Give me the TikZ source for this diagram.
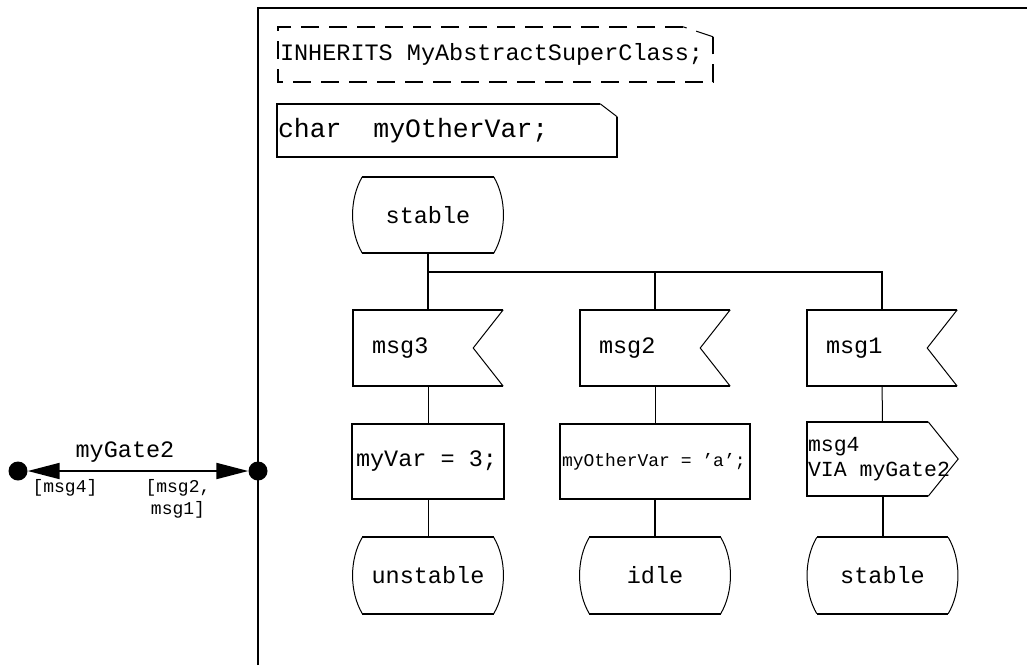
\documentclass[tikz,border=0pt]{standalone}
\usepackage{fontspec}
\setmonofont{Liberation Mono}[WordSpace={1,0,0}]
\usepackage{tikz}
\usetikzlibrary{positioning,calc,arrows.meta}
% monospaced text with full-width spaces
\newcommand{\sdlMono}{\ttfamily\fontdimen2\font=0.6em\fontdimen3\font=0pt\fontdimen4\font=0pt}
\newcommand{\sdlFont}{\fontsize{23.5pt}{25pt}\selectfont\sdlMono}
\newcommand{\sdlSmall}{\fontsize{18pt}{22pt}\selectfont\sdlMono}
\newcommand{\sdlDecl}{\fontsize{26.5pt}{28pt}\selectfont\sdlMono}
\newcommand{\sdlOutFont}{\fontsize{21.5pt}{25pt}\selectfont\sdlMono}
\tikzset{
    sdlBase/.style={
        rectangle,
        inner sep=0pt,
        font=\sdlFont,
        align=flush left
    },
    % Symbol Variants
    sdlState/.style={sdlBase, minimum width=151pt, minimum height=76pt, text width=151pt, align=flush center},
    sdlInput/.style={sdlBase, minimum height=76pt, inner xsep=19pt, text width=112pt},
    sdlTask/.style={sdlBase, minimum height=75pt},
    sdlOutput/.style={sdlBase, font=\sdlOutFont, minimum height=74pt, inner xsep=1pt, text width=149pt},
    sdlText/.style={sdlBase, inner xsep=2pt},
    sdlGateDot/.style={circle, fill=black, inner sep=0pt, minimum size=19pt},
    sdlLabel/.style={font=\sdlSmall, align=flush center, inner sep=0pt},
    % Lines
    sdlThick/.style={line width=2pt, line join=miter},
    sdlThin/.style={line width=1pt},
    sdlGateArrow/.style={sdlThick, {Triangle[length=32pt,width=16pt]}-{Triangle[length=32pt,width=16pt]}}
}
% outlines drawn round named nodes
\newcommand{\drawState}[1]{%
    \draw[sdlThick] ([xshift=10pt]#1.north west) -- ([xshift=-10pt]#1.north east)
        ([xshift=10pt]#1.south west) -- ([xshift=-10pt]#1.south east);
    \draw[sdlThin] ([xshift=10pt]#1.north west) .. controls ([xshift=-3pt,yshift=-22pt]#1.north west) and ([xshift=-3pt,yshift=22pt]#1.south west) .. ([xshift=10pt]#1.south west)
        ([xshift=-10pt]#1.north east) .. controls ([xshift=3pt,yshift=-22pt]#1.north east) and ([xshift=3pt,yshift=22pt]#1.south east) .. ([xshift=-10pt]#1.south east);
}
\newcommand{\drawInput}[1]{%
    \draw[sdlThick] (#1.north east) -- (#1.north west) -- (#1.south west) -- (#1.south east);
    \draw[sdlThin] (#1.north east) -- ([xshift=-30pt]#1.east) -- (#1.south east);
}
\newcommand{\drawOutput}[1]{%
    \draw[sdlThick] ([xshift=-30pt]#1.north east) -- (#1.north west) -- (#1.south west) -- ([xshift=-30pt]#1.south east);
    \draw[sdlThin] ([xshift=-30pt]#1.north east) -- (#1.east) -- ([xshift=-30pt]#1.south east);
}
\newcommand{\drawTextSym}[4][]{%
    \draw[sdlThick,#1] ([xshift=-#3]#2.north east) -- (#2.north west) -- (#2.south west) -- (#2.south east) -- ([yshift=-#4]#2.north east);
    \draw[sdlThin,#1] ([yshift=-#4]#2.north east) -- ([xshift=-#3]#2.north east);
}

\begin{document}
\begin{tikzpicture}[x=1pt, y=-1pt]
\useasboundingbox (0,0) rectangle (1027,665);
% frame
\draw[sdlThick] (258,665) -- (258,8) -- (1027,8);

\node[sdlText, text width=431pt, minimum height=55pt] (inherits) at (495.5,54.5) {INHERITS MyAbstractSuperClass;};
\node[sdlText, font=\sdlDecl, inner xsep=1pt, text width=338pt, minimum height=53pt] (decl) at (447,130.5) {char\ \ myOtherVar;};
\drawTextSym[dash pattern=on 18pt off 10pt]{inherits}{30pt}{10pt}
\drawTextSym{decl}{17pt}{13pt}

\node[sdlState] (start) at (428,215) {stable};
\coordinate (branch) at (428,272);

\node[sdlInput, minimum width=150pt] (in3) at (428,348) {msg3};
\node[sdlInput, minimum width=150pt] (in2) at (655,348) {msg2};
\node[sdlInput, minimum width=150pt] (in1) at (882,348) {msg1};

\node[sdlTask, minimum width=152pt, inner xsep=4pt, text width=144pt] (task3) at (428,461.5) {myVar = 3;};
\node[sdlTask, font=\sdlSmall, minimum width=190pt, inner xsep=2pt, text width=186pt] (task2) at (655,461.5) {myOtherVar = ’a’;};
\node[sdlOutput, minimum width=151pt] (out4) at (882.5,459) {msg4\\VIA myGate2};

\node[sdlState] (unstable) at (428,575.5) {unstable};
\node[sdlState] (idle) at (655,575.5) {idle};
\node[sdlState] (stable) at (882.5,575.5) {stable};

\drawState{start}
\drawInput{in3} \drawInput{in2} \drawInput{in1}
\draw[sdlThick] (task3.north west) rectangle (task3.south east);
\draw[sdlThick] (task2.north west) rectangle (task2.south east);
\drawOutput{out4}
\drawState{unstable} \drawState{idle} \drawState{stable}

\draw[sdlThick] (start) -- (in3);
\draw[sdlThick] (branch) -| (in2);
\draw[sdlThick] (branch) -| (in1);
\draw[sdlThin] (in3) -- (task3);
\draw[sdlThin] (task3) -- (unstable);
\draw[sdlThin] (in2) -- (task2);
\draw[sdlThick] (task2) -- (idle);
\draw[sdlThin] (in1) -- (out4);
\draw[sdlThick] (out4) -- (stable);

% gate
\node[sdlGateDot] (gateOut) at (18,471) {};
\node[sdlGateDot] (gateIn) at (258,471) {};
\draw[sdlGateArrow] (gateOut) -- (gateIn);
\node[font=\sdlFont, inner sep=0pt] (gateName) at (125,452) {myGate2};
\node[sdlLabel] (gateOutSig) at (65,488) {[msg4]};
\node[sdlLabel] (gateInSig) at (178,498.5) {[msg2,\\msg1]};
\end{tikzpicture}
\end{document}
